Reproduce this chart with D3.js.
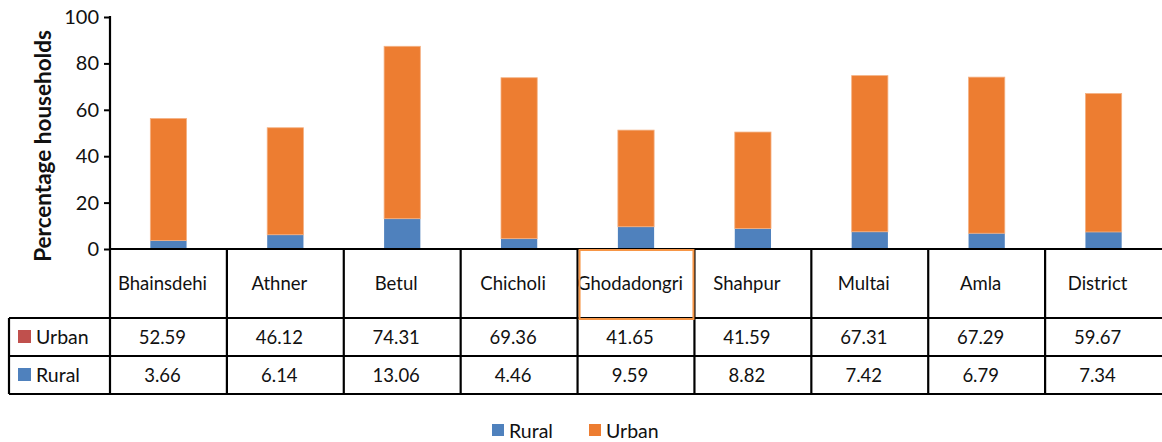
<!DOCTYPE html>
<html><head><meta charset="utf-8">
<script src="https://cdn.jsdelivr.net/npm/d3@7"></script>
<style>body{margin:0;background:#fff}svg{display:block}text{font-family:Lato,"Open Sans",sans-serif;fill:#111}</style>
</head><body><svg id="c" width="1162" height="442"></svg>
<script>
const categories = ["Bhainsdehi","Athner","Betul","Chicholi","Ghodadongri","Shahpur","Multai","Amla","District"];
const urban = [52.59,46.12,74.31,69.36,41.65,41.59,67.31,67.29,59.67];
const rural = [3.66,6.14,13.06,4.46,9.59,8.82,7.42,6.79,7.34];
const yTicks = [0,20,40,60,80,100];
const seriesNames = ["Rural","Urban"];

const svg = d3.select("#c");
const x = d3.scaleBand().domain(categories).range([110,1162]).padding(0);
const y = d3.scaleLinear().domain([0,100]).range([249,17]);
const blue = "#4f81bd", orange = "#ed7d31", red = "#c0504d";
const bw = x.bandwidth()*0.31;
const fs = "18.5px";

// bars
const g = svg.append("g");
categories.forEach((c,i)=>{
  const cx = x(c)+x.bandwidth()/2;
  g.append("rect").attr("x",cx-bw/2).attr("width",bw)
    .attr("y",y(rural[i])).attr("height",y(0)-y(rural[i])).attr("fill",blue);
  g.append("rect").attr("x",cx-bw/2).attr("width",bw)
    .attr("y",y(rural[i]+urban[i])).attr("height",y(rural[i])-y(rural[i]+urban[i]))
    .attr("fill",orange).attr("stroke","#f4b183").attr("stroke-width",0.8);
});

// y axis
const ya = svg.append("g").attr("transform","translate(110,0)")
  .call(d3.axisLeft(y).tickValues(yTicks).tickSize(6).tickPadding(5));
ya.select(".domain").remove();
ya.selectAll(".tick line").attr("stroke","#000").attr("stroke-width",2);
ya.selectAll(".tick text").style("font-size","20px").attr("fill","#111");
svg.append("line").attr("x1",110).attr("x2",110).attr("y1",16).attr("y2",394).attr("stroke","#000").attr("stroke-width",2.2);

svg.append("text").attr("transform","translate(51,146) rotate(-90)")
  .attr("text-anchor","middle").style("font-size","22.5px").style("font-weight","700")
  .text("Percentage households");

// table
const hl = (x1,x2,yy)=>svg.append("line").attr("x1",x1).attr("x2",x2).attr("y1",yy).attr("y2",yy).attr("stroke","#000").attr("stroke-width",2.2);
hl(110,1162,249);
hl(9,1162,318); hl(9,1162,356); hl(9,1162,394);
categories.slice(1).forEach(c=>{
  svg.append("line").attr("x1",x(c)).attr("x2",x(c)).attr("y1",249).attr("y2",394).attr("stroke","#000").attr("stroke-width",2.2);
});
svg.append("line").attr("x1",9).attr("x2",9).attr("y1",318).attr("y2",394).attr("stroke","#000").attr("stroke-width",2.2);

categories.forEach((c,i)=>{
  const cx = x(c)+x.bandwidth()/2 - 6;
  svg.append("text").attr("x",cx).attr("y",290).attr("text-anchor","middle").style("font-size",fs).text(c);
  svg.append("text").attr("x",cx).attr("y",344).attr("text-anchor","middle").style("font-size",fs).text(urban[i].toFixed(2));
  svg.append("text").attr("x",cx).attr("y",382).attr("text-anchor","middle").style("font-size",fs).text(rural[i].toFixed(2));
});
// highlight cell
svg.append("rect").attr("x",x("Ghodadongri")+2).attr("y",250).attr("width",x.bandwidth()-3).attr("height",69)
  .attr("fill","none").attr("stroke","#f79646").attr("stroke-width",2);

// row legend keys
[["Urban",red,337],["Rural",blue,375]].forEach(([n,col,cy])=>{
  svg.append("rect").attr("x",18).attr("y",cy-7).attr("width",13).attr("height",13).attr("fill",col);
  svg.append("text").attr("x",36).attr("y",cy+7).style("font-size","19.5px").text(n);
});

// bottom legend
const leg = [[seriesNames[0],blue,492],[seriesNames[1],orange,589]];
leg.forEach(([n,col,lx])=>{
  svg.append("rect").attr("x",lx).attr("y",424).attr("width",12).attr("height",12).attr("fill",col);
  svg.append("text").attr("x",lx+17).attr("y",438).style("font-size","19.5px").text(n);
});
</script></body></html>
